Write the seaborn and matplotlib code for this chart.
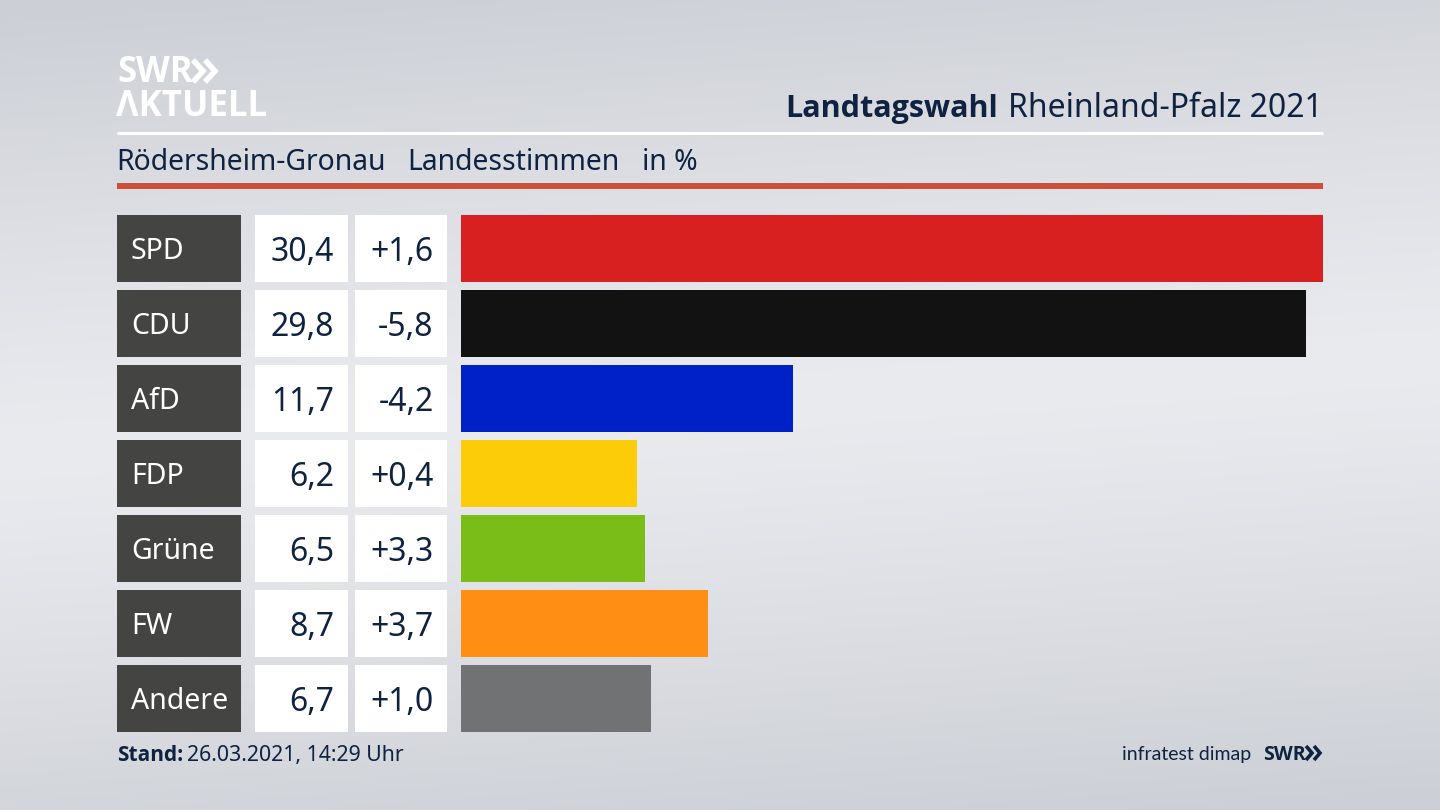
import matplotlib
matplotlib.use("Agg")
import matplotlib.pyplot as plt
import seaborn as sns
import numpy as np
import pandas as pd

parties = ["SPD", "CDU", "AfD", "FDP", "Grüne", "FW", "Andere"]
shares = [30.4, 29.8, 11.7, 6.2, 6.5, 8.7, 6.7]
changes = ["+1,6", "-5,8", "-4,2", "+0,4", "+3,3", "+3,7", "+1,0"]
colors = ["#d7201f", "#121212", "#0020c8", "#fdcc08", "#7abd18", "#fe8f14", "#717274"]

NAVY = "#0f2240"
BOLD = ["Open Sans", "DejaVu Sans"]
W, H = 1440, 810

sns.set_theme(style="white")
plt.rcParams["font.family"] = ["Noto Sans", "DejaVu Sans"]

df = pd.DataFrame({"party": parties, "share": shares, "one": [1] * len(parties)})


def px_axes(left, right, top=215, bottom=731.5):
    return fig.add_axes([left / W, 1 - bottom / H, (right - left) / W, (bottom - top) / H])


def column(left, right, color):
    ax = px_axes(left, right)
    sns.barplot(data=df, x="one", y="party", color=color, width=0.887, saturation=1, linewidth=0, ax=ax)
    ax.set_xlim(0, 1)
    ax.set_ylim(6.4435, -0.4435)
    ax.axis("off")
    return ax


fig = plt.figure(figsize=(W / 100, H / 100), dpi=100)

# background
bg = fig.add_axes([0, 0, 1, 1])
yy, xx = np.mgrid[0:1:162j, 0:1:288j]
d = np.abs((yy - 0.5) + 0.12 * (xx - 0.5)) / 0.55
shade = np.clip(d, 0, 1) ** 1.2
top_c = np.array([0xcc, 0xcf, 0xd5]) / 255
mid_c = np.array([0xea, 0xeb, 0xef]) / 255
img = mid_c + (top_c - mid_c) * shade[..., None]
bg.imshow(img, aspect="auto", extent=(0, W, H, 0), interpolation="bicubic")
bg.set_xlim(0, W)
bg.set_ylim(H, 0)
bg.axis("off")

# header rules
bg.plot([117, 1323], [133, 133], color="white", lw=2.2, solid_capstyle="butt")
bg.plot([117, 1323], [186, 186], color="#cc4f38", lw=4.3, solid_capstyle="butt")

# logo
bg.text(117, 82, "SWR", color="white", fontsize=25, fontweight="bold", family=BOLD, ha="left", va="baseline")
bg.text(116, 116, "ΛKTUELL", color="white", fontsize=25, fontweight="bold", family=BOLD, ha="left", va="baseline")
for x0 in (193, 205):
    bg.plot([x0, x0 + 10, x0], [60, 71, 82], color="white", lw=4, solid_joinstyle="miter", solid_capstyle="butt")

# titles
bg.text(785, 117, "Landtagswahl", color=NAVY, fontsize=22, fontweight="bold", family=BOLD, ha="left", va="baseline")
bg.text(1323, 117, "Rheinland-Pfalz 2021", color=NAVY, fontsize=23, ha="right", va="baseline")
bg.text(116, 170, "Rödersheim-Gronau", color=NAVY, fontsize=20.4, ha="left", va="baseline")
bg.text(407, 170, "Landesstimmen", color=NAVY, fontsize=20.4, ha="left", va="baseline")
bg.text(642, 170, "in %", color=NAVY, fontsize=20.4, ha="left", va="baseline")

# table columns
ax_name = column(117, 241, "#444442")
ax_val = column(255, 348, "white")
ax_chg = column(355, 447, "white")
for i, party in enumerate(parties):
    ax_name.text(14 / 124, i, party, color="white", fontsize=20.5, ha="left", va="center_baseline")
    ax_val.text(79 / 93, i, f"{shares[i]:.1f}".replace(".", ","), color=NAVY, fontsize=23, ha="right", va="center_baseline")
    ax_chg.text(78.5 / 92, i, changes[i], color=NAVY, fontsize=23, ha="right", va="center_baseline")

# bars
ax = px_axes(461, 1323)
sns.barplot(data=df, x="share", y="party", hue="party", palette=colors, legend=False,
            width=0.887, saturation=1, linewidth=0, ax=ax)
ax.set_xlim(0, 30.4)
ax.set_ylim(6.4435, -0.4435)
ax.axis("off")

# footer
bg.text(117, 761, "Stand:", color=NAVY, fontsize=15, fontweight="bold", family=BOLD, ha="left", va="baseline")
bg.text(187, 761, "26.03.2021, 14:29 Uhr", color=NAVY, fontsize=15.3, ha="left", va="baseline")
bg.text(1251, 760, "infratest dimap", color=NAVY, fontsize=14, family="Lato", ha="right", va="baseline")
bg.text(1263, 760, "SWR", color=NAVY, fontsize=14, fontweight="bold", family=BOLD, ha="left", va="baseline")
for x0 in (1306, 1314):
    bg.plot([x0, x0 + 6, x0], [746, 753, 760], color=NAVY, lw=2.6, solid_joinstyle="miter", solid_capstyle="butt")

fig.savefig("out.png", dpi=100)
plt.close(fig)
